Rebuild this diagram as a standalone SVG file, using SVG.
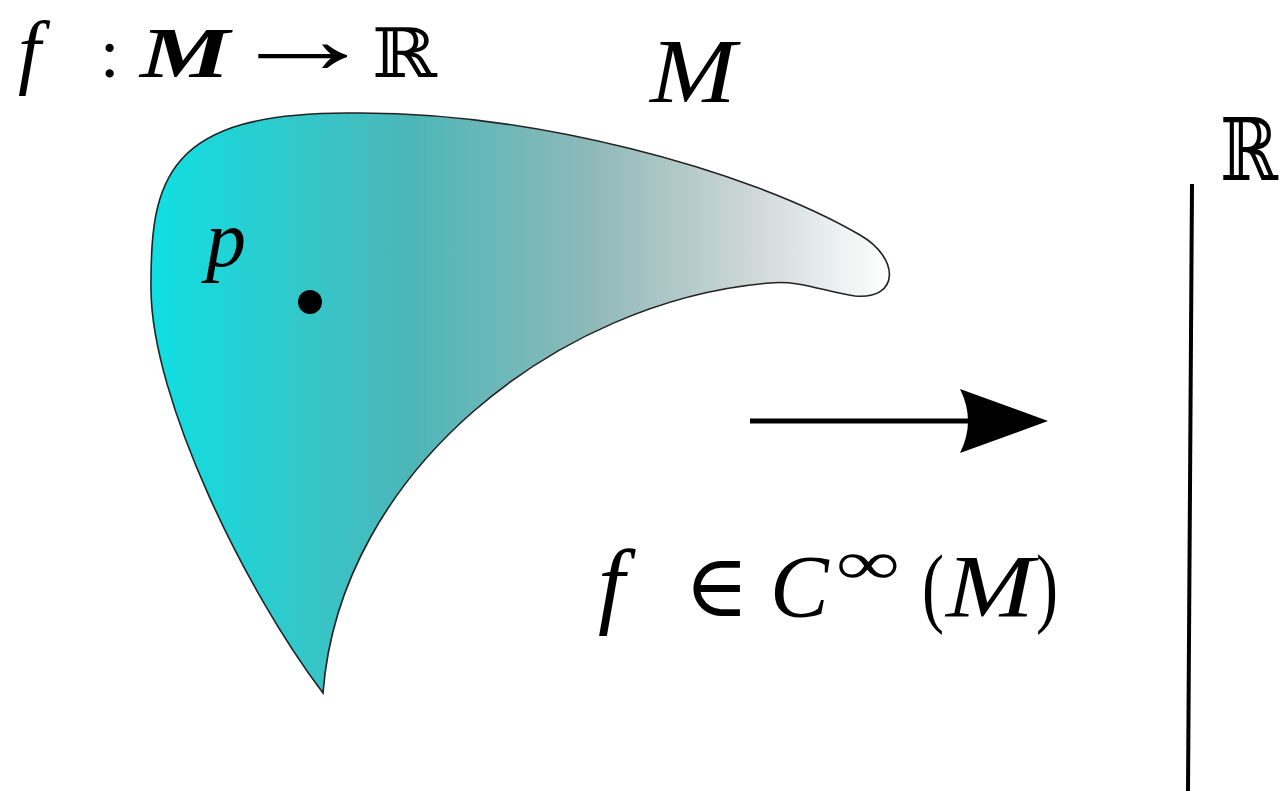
<svg xmlns="http://www.w3.org/2000/svg" width="1286" height="791" viewBox="0 0 1286 791">
<style>
.t{font-family:"Liberation Serif","DejaVu Serif",serif;fill:#000}
.i{font-style:italic}
.bb{font-family:"DejaVu Serif","DejaVu Sans",serif;font-style:normal}
</style>
<defs>
<linearGradient id="g" x1="152" y1="0" x2="890" y2="0" gradientUnits="userSpaceOnUse">
<stop offset="0" stop-color="#0fdfe2"/>
<stop offset="0.35" stop-color="#4db6b8"/>
<stop offset="0.6" stop-color="#90b9b9"/>
<stop offset="0.8" stop-color="#cbd5d5"/>
<stop offset="1" stop-color="#ffffff"/>
</linearGradient>
</defs>
<rect width="1286" height="791" fill="#fff"/>
<g id="manifold">
<path d="M323 693 C245 590 152 400 151 290 C150 180 165 111 355 113 C530 112 745 168 860 235 C900 258 900 300 855 296 C825 292 800 280 770 283 C560 300 340 470 323 693 Z" fill="url(#g)" stroke="#222" stroke-width="1.6"/>
<circle cx="310" cy="302" r="12" fill="#000"/>
<text class="t i" x="206" y="266" font-size="80">p</text>
<text class="t i" x="650" y="102" font-size="92" textLength="86" lengthAdjust="spacingAndGlyphs">M</text>
</g>
<g id="title">
<text class="t i" x="18" y="78" font-size="82">f</text>
<text class="t" x="100" y="77" font-size="70">:</text>
<text class="t i" x="140" y="77" font-size="72" font-weight="bold" textLength="90" lengthAdjust="spacingAndGlyphs">M</text>
<text class="t" x="0" y="73" font-size="100" transform="translate(228,0) scale(1.5,1)">→</text>
<text class="t bb" x="372" y="77" font-size="68" textLength="65" lengthAdjust="spacingAndGlyphs">ℝ</text>
</g>
<g id="real-line">
<text class="t bb" x="1220" y="180" font-size="86" textLength="58" lengthAdjust="spacingAndGlyphs">ℝ</text>
<line x1="1192" y1="184" x2="1188" y2="791" stroke="#000" stroke-width="4"/>
</g>
<g id="connectors">
<line x1="750" y1="421" x2="968" y2="421" stroke="#000" stroke-width="5"/>
<path d="M1048 421 L960 389 Q976 421 960 453 Z" fill="#000"/>
</g>
<g id="label">
<text class="t i" x="598" y="616" font-size="96">f</text>
<text class="t" x="684" y="616" font-size="88">∈</text>
<text class="t i" x="770" y="616" font-size="88">C</text>
<text class="t" x="836" y="584" font-size="62" textLength="64" lengthAdjust="spacingAndGlyphs">∞</text>
<text class="t" x="922" y="616" font-size="88" textLength="22" lengthAdjust="spacingAndGlyphs">(</text>
<text class="t i" x="946" y="616" font-size="88" textLength="88" lengthAdjust="spacingAndGlyphs">M</text>
<text class="t" x="1036" y="616" font-size="88" textLength="22" lengthAdjust="spacingAndGlyphs">)</text>
</g>
</svg>
